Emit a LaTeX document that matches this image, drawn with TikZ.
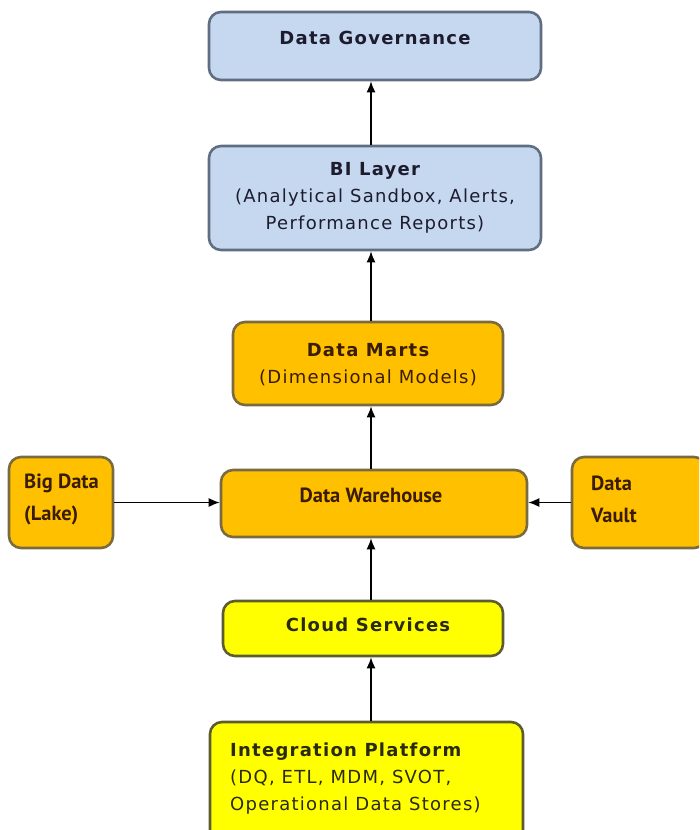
\documentclass[tikz,border=0pt]{standalone}
\usepackage{fontspec}
\usetikzlibrary{arrows.meta}
\newfontfamily\boxfont{DejaVu Sans}[LetterSpace=7]
\newfontfamily\rowfont{PT Sans}

\definecolor{govblue}{HTML}{C6D8F0}
\definecolor{blueline}{HTML}{5F6E80}
\definecolor{martorange}{HTML}{FFC000}
\definecolor{orangeline}{HTML}{7A6A40}
\definecolor{cloudyellow}{HTML}{FFFF00}
\definecolor{yellowline}{HTML}{5C5C30}
\definecolor{navytext}{HTML}{1C1C2E}
\definecolor{browntext}{HTML}{3A1C00}
\definecolor{olivetext}{HTML}{2A2A10}

\tikzset{
  layer/.style={draw, line width=2.6pt, rounded corners=12pt, inner sep=0pt},
  bluebox/.style={layer, fill=govblue, draw=blueline},
  orangebox/.style={layer, fill=martorange, draw=orangeline},
  yellowbox/.style={layer, fill=cloudyellow, draw=yellowline},
  caption/.style={inner sep=0pt, font=\boxfont\fontsize{18}{27}\selectfont},
  rowcaption/.style={inner sep=0pt, font=\rowfont\bfseries\fontsize{20.5}{32}\selectfont},
  feed/.style={line width=1.4pt, -{Latex[length=11pt,width=9pt]}}
}

\begin{document}
\begin{tikzpicture}[x=1pt,y=-1pt]
    \useasboundingbox (0,0) rectangle (699,830);
    \clip (0,0) rectangle (699,830);
    % boxes: centre, then width x height
    \node[bluebox,   minimum width=332pt, minimum height=68pt]  (gov)   at (375,46)    {};
    \node[bluebox,   minimum width=332pt, minimum height=104pt] (bi)    at (375,198)   {};
    \node[orangebox, minimum width=270pt, minimum height=83pt]  (marts) at (368,363.5) {};
    \node[orangebox, minimum width=306pt, minimum height=67pt]  (dwh)   at (374,503.5) {};
    \node[orangebox, minimum width=104pt, minimum height=91pt]  (lake)  at (61,502.5)  {};
    \node[orangebox, minimum width=134pt, minimum height=91pt]  (vault) at (639,502.5) {};
    \node[yellowbox, minimum width=280pt, minimum height=55pt]  (cloud) at (363,628.5) {};
    \node[yellowbox, minimum width=313pt, minimum height=130pt] (integ) at (366.5,787) {};
    % texts
    \node[caption, text=navytext] (gov-txt) at (375,38) {\bfseries Data Governance};
    \node[caption, text=navytext, align=center] (bi-txt) at (375,198)
        {\bfseries BI Layer\\(Analytical Sandbox, Alerts,\\Performance Reports)};
    \node[caption, text=browntext, align=center] (marts-txt) at (368,365)
        {\bfseries Data Marts\\(Dimensional Models)};
    \node[rowcaption, text=browntext] (dwh-txt) at (371,495) {Data Warehouse};
    \node[rowcaption, text=browntext, align=left, anchor=west] (lake-txt) at (24,499)
        {Big Data\\(Lake)};
    \node[rowcaption, text=browntext, align=left, anchor=west] (vault-txt) at (591,499)
        {Data\\Vault};
    \node[caption, text=olivetext] (cloud-txt) at (368,625) {\bfseries Cloud Services};
    \node[caption, text=olivetext, align=left, anchor=west] (integ-txt) at (230,779)
        {\bfseries Integration Platform\\(DQ, ETL, MDM, SVOT,\\Operational Data Stores)};
    % arrows up the stack
    \coordinate (spine) at (371,0);
    \draw[feed] (integ.north -| spine) -- (cloud.south -| spine);
    \draw[feed] (cloud.north -| spine) -- (dwh.south -| spine);
    \draw[feed] (dwh.north -| spine) -- (marts.south -| spine);
    \draw[feed] (marts.north -| spine) -- (bi.south -| spine);
    \draw[feed] (bi.north -| spine) -- (gov.south -| spine);
    \draw[feed] (lake.east) -- (lake.east -| dwh.west);
    \draw[feed] (vault.west) -- (vault.west -| dwh.east);
\end{tikzpicture}
\end{document}
